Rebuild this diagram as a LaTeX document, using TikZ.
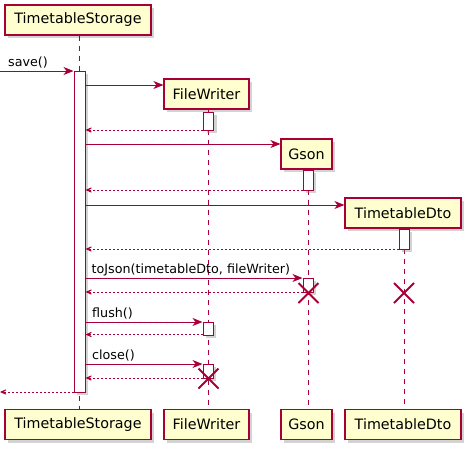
\documentclass[tikz,border=0pt]{standalone}
\usepackage{fontspec}
\setmainfont{DejaVu Sans}
\usetikzlibrary{arrows.meta,shadows}
\definecolor{pborder}{HTML}{A80036}
\definecolor{pfill}{HTML}{FEFECE}
\begin{document}
\begin{tikzpicture}[x=1pt,y=-1pt,
  shad/.style={drop shadow={shadow xshift=3pt,shadow yshift=-3pt,opacity=0.35,fill=gray}},
  part/.style={draw=pborder, fill=pfill, line width=1.2pt, minimum height=30pt, inner sep=0pt,
    font=\fontsize{14.3}{16}\selectfont, shad},
  act/.style={draw=pborder, fill=white, line width=1pt, minimum width=10pt, inner sep=0pt, shad},
  life/.style={draw=pborder, line width=1pt, dash pattern=on 5pt off 5pt},
  msg/.style={draw=pborder, line width=1pt, -{Stealth[length=10pt,width=8pt,inset=3pt]}},
  ret/.style={draw=pborder, line width=1pt, dash pattern=on 2pt off 2pt, -{Stealth[length=10pt,width=9pt,inset=6.5pt]}},
  lbl/.style={font=\fontsize{12.7}{15}\selectfont, anchor=base west, inner sep=0pt},
  kill/.style={draw=pborder, line width=1.8pt}
]
\useasboundingbox (0,0) rectangle (473,453);
% lifeline x positions
\coordinate (L1) at (79,0);
\coordinate (L2) at (208,0);
\coordinate (L3) at (308,0);
\coordinate (L4) at (404,0);
% participants
\node[part, minimum width=146pt] (tsTop) at (78,20) {TimetableStorage};
\node[part, minimum width=146pt] (tsBot) at (78,424.5) {TimetableStorage};
\node[part, minimum width=85pt] (fwTop) at (206.5,94) {FileWriter};
\node[part, minimum width=85pt] (fwBot) at (206.5,424.5) {FileWriter};
\node[part, minimum width=51pt] (gsTop) at (306.5,154) {Gson};
\node[part, minimum width=51pt] (gsBot) at (306.5,424.5) {Gson};
\node[part, minimum width=116pt] (dtTop) at (403,213) {TimetableDto};
\node[part, minimum width=116pt] (dtBot) at (403,424.5) {TimetableDto};
% lifelines
\draw[life] (tsTop.south -| L1) -- (tsBot.north -| L1);
\draw[life] (fwTop.south -| L2) -- (fwBot.north -| L2);
\draw[life] (gsTop.south -| L3) -- (gsBot.north -| L3);
\draw[life] (dtTop.south -| L4) -- (dtBot.north -| L4);
% activations
\node[act, minimum width=11pt, minimum height=321pt] (aTS) at (79.5,231.5) {};
\node[act, minimum height=18pt] (aFW1) at (208.5,121) {};
\node[act, minimum height=20pt] (aG1) at (308,180) {};
\node[act, minimum height=20pt] (aD1) at (404,239) {};
\node[act, minimum height=14pt] (aG2) at (308,285) {};
\node[act, minimum height=13pt] (aFW2) at (208,328.5) {};
\node[act, minimum height=14pt] (aFW3) at (208,371) {};
% message rows
\coordinate (m0) at (0,71);
\coordinate (m1) at (0,85);
\coordinate (r1) at (0,130);
\coordinate (m2) at (0,144);
\coordinate (r2) at (0,190);
\coordinate (m3) at (0,205);
\coordinate (r3) at (0,249);
\coordinate (m4) at (0,278);
\coordinate (r4) at (0,292);
\coordinate (m5) at (0,322);
\coordinate (r5) at (0,334.5);
\coordinate (m6) at (0,364);
\coordinate (r6) at (0,378);
\coordinate (r7) at (0,392);
% messages
\draw[msg] (m0) -- (aTS.west |- m0);
\node[lbl] (t0) at (8,66) {save()};
\draw[msg] (aTS.east |- m1) -- (fwTop.west |- m1);
\draw[ret] (aFW1.west |- r1) -- (aTS.east |- r1);
\draw[msg] (aTS.east |- m2) -- (gsTop.west |- m2);
\draw[ret] (aG1.west |- r2) -- (aTS.east |- r2);
\draw[msg] (aTS.east |- m3) -- (dtTop.west |- m3);
\draw[ret] (aD1.west |- r3) -- (aTS.east |- r3);
\draw[msg] (aTS.east |- m4) -- (aG2.west |- m4);
\node[lbl] (t4) at (91.5,273) {toJson(timetableDto, fileWriter)};
\draw[ret] (aG2.west |- r4) -- (aTS.east |- r4);
\draw[msg] (aTS.east |- m5) -- (aFW2.west |- m5);
\node[lbl] (t5) at (92,317) {flush()};
\draw[ret] (aFW2.west |- r5) -- (aTS.east |- r5);
\draw[msg] (aTS.east |- m6) -- (aFW3.west |- m6);
\node[lbl] (t6) at (92,359) {close()};
\draw[ret] (aFW3.west |- r6) -- (aTS.east |- r6);
\draw[ret] (aTS.west |- r7) -- (r7);
% destroys
\coordinate (x1) at (308.5,293);
\coordinate (x2) at (404,293);
\coordinate (x3) at (208.5,378.5);
\foreach \c in {x1,x2,x3}{
  \draw[kill] ([shift={(-10,-10)}]\c) -- ([shift={(10,10)}]\c);
  \draw[kill] ([shift={(-10,10)}]\c) -- ([shift={(10,-10)}]\c);
}
\end{tikzpicture}
\end{document}
